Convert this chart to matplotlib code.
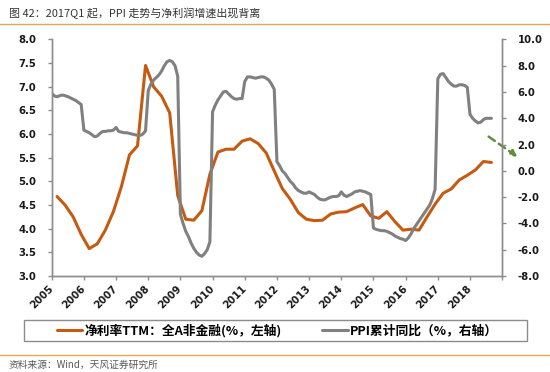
import numpy as np
import matplotlib
matplotlib.use("Agg")
import matplotlib.pyplot as plt
from matplotlib.lines import Line2D
from matplotlib.patches import Rectangle
from matplotlib.ticker import FormatStrFormatter

plt.rcParams['font.family'] = ['Noto Sans CJK SC', 'DejaVu Sans']

# 净利率TTM：全A非金融, quarterly 2005Q1 - 2018Q3 (left axis, %)
margin_ttm = [
    4.68, 4.50, 4.25, 3.88,
    3.58, 3.68, 3.97, 4.36,
    4.89, 5.56, 5.75, 7.45,
    7.00, 6.80, 6.45, 4.70,
    4.20, 4.18, 4.38, 5.15,
    5.62, 5.68, 5.68, 5.85,
    5.90, 5.80, 5.60, 5.22,
    4.85, 4.62, 4.34, 4.20,
    4.17, 4.18, 4.31, 4.35,
    4.36, 4.44, 4.51, 4.27,
    4.22, 4.36, 4.15, 3.97,
    3.99, 3.97, 4.25, 4.52,
    4.75, 4.84, 5.03, 5.13,
    5.24, 5.42, 5.40,
]

# PPI累计同比, monthly 2005-01 - 2018-09 (right axis, %)
ppi_ytd = [
    5.90, 5.70, 5.64, 5.72, 5.77, 5.72, 5.65, 5.55, 5.45, 5.35, 5.20, 5.05,
    3.10, 3.00, 2.90, 2.75, 2.60, 2.65, 2.85, 3.00, 3.00, 3.05, 3.05, 3.10,
    3.30, 3.00, 2.95, 2.90, 2.90, 2.85, 2.80, 2.75, 2.70, 2.70, 2.80, 3.05,
    6.10, 6.60, 6.90, 7.10, 7.30, 7.60, 8.00, 8.30, 8.40, 8.30, 8.00, 7.20,
    -3.30, -4.00, -4.60, -5.00, -5.50, -5.90, -6.20, -6.40, -6.50, -6.30, -6.00, -5.40,
    4.50, 5.00, 5.40, 5.70, 6.00, 6.05, 5.85, 5.65, 5.50, 5.45, 5.50, 5.50,
    6.80, 7.15, 7.15, 7.10, 7.05, 7.10, 7.15, 7.15, 7.05, 6.90, 6.60, 6.20,
    0.70, 0.40, 0.00, -0.20, -0.50, -0.80, -1.00, -1.30, -1.50, -1.60, -1.70, -1.70,
    -1.60, -1.70, -1.80, -2.00, -2.15, -2.20, -2.20, -2.10, -2.00, -1.95, -1.95, -1.90,
    -1.60, -1.85, -1.95, -1.85, -1.75, -1.60, -1.55, -1.50, -1.55, -1.60, -1.70, -1.80,
    -4.35, -4.45, -4.50, -4.55, -4.55, -4.60, -4.70, -4.80, -4.95, -5.05, -5.15, -5.20,
    -5.30, -5.10, -4.80, -4.40, -4.10, -3.80, -3.50, -3.20, -2.90, -2.60, -2.10, -1.40,
    7.00, 7.35, 7.40, 7.10, 6.80, 6.60, 6.45, 6.45, 6.55, 6.55, 6.50, 6.35,
    4.30, 4.00, 3.80, 3.65, 3.70, 3.90, 4.00, 4.00, 4.00,
]

years = list(range(2005, 2019))
start_year = 2005

# month index -> fractional year; quarterly points sit on quarter-end months
ppi_x = start_year + np.arange(len(ppi_ytd)) / 12
margin_x = start_year + (2 + 3 * np.arange(len(margin_ttm))) / 12

orange = '#C55A11'
grey = '#808080'
axis_col = '#8C8C8C'
rule_col = '#E3A857'

fig = plt.figure(figsize=(5.5, 3.72), dpi=100)
ax = fig.add_axes([0.094, 0.258, 0.819, 0.636])
ax2 = ax.twinx()

l1, = ax.plot(margin_x, margin_ttm, color=orange, lw=2.2, solid_capstyle='round',
              label='净利率TTM：全A非金融(%，左轴)')
l2, = ax2.plot(ppi_x, ppi_ytd, color=grey, lw=2.2, solid_capstyle='round',
               label='PPI累计同比（%，右轴）')

ax.set_xlim(2005, 2019)
ax.set_ylim(3, 8)
ax2.set_ylim(-8, 10)
ax.set_yticks(np.arange(3, 8.01, 0.5))
ax2.set_yticks(np.arange(-8, 10.01, 2))
ax.yaxis.set_major_formatter(FormatStrFormatter('%.1f'))
ax2.yaxis.set_major_formatter(FormatStrFormatter('%.1f'))
ax.set_xticks(years + [2019])
ax.set_xticklabels([str(y) for y in years] + [''], rotation=45, ha='right',
                   va='center', rotation_mode='anchor')

for a in (ax, ax2):
    a.spines['top'].set_visible(False)
    for s in ('left', 'right', 'bottom'):
        a.spines[s].set_color(axis_col)
        a.spines[s].set_linewidth(1.0)
    a.tick_params(color=axis_col, length=3, width=1.0, direction='out')
ax.tick_params(axis='y', pad=8)
ax2.tick_params(axis='y', pad=8)
ax.tick_params(axis='x', pad=5)

for lab in ax.get_yticklabels() + ax2.get_yticklabels() + ax.get_xticklabels():
    lab.set_fontfamily('DejaVu Sans')
    lab.set_fontweight('bold')
    lab.set_fontsize(7.3)
    lab.set_color('#1a1a1a')

# green dashed arrow hinting at the divergence
ax.annotate('', xy=(1.039, 0.497), xytext=(0.965, 0.596),
            xycoords='axes fraction', textcoords='axes fraction',
            annotation_clip=False,
            arrowprops=dict(arrowstyle='-|>', color='#5E8F3A', lw=1.8,
                            linestyle=(0, (3, 2)), mutation_scale=9))

# legend box drawn separately, entries placed inside it
fig.add_artist(Rectangle((0.0436, 0.0833), 0.9145, 0.0565, transform=fig.transFigure,
                         fill=False, edgecolor=axis_col, lw=1.0))
fig.legend(handles=[l1, l2], loc='center left', ncol=2,
           bbox_to_anchor=(0.103, 0.1116), frameon=False,
           prop={'weight': 'bold', 'size': 9.2},
           handlelength=2.0, handletextpad=0.15, borderpad=0,
           columnspacing=3.2, borderaxespad=0)

fig.text(0.016, 0.965, '图 42：2017Q1 起，PPI 走势与净利润增速出现背离',
         fontsize=7.9, color='#333333', va='center', ha='left')
fig.text(0.016, 0.019, '资料来源：Wind，天风证券研究所',
         fontsize=7.0, color='#595959', va='center', ha='left')

fig.add_artist(Line2D([0, 1], [0.935, 0.935], transform=fig.transFigure,
                      color=rule_col, lw=1.0))
fig.add_artist(Line2D([0, 1], [0.046, 0.046], transform=fig.transFigure,
                      color=rule_col, lw=1.0))

fig.savefig('out.png', dpi=100)
